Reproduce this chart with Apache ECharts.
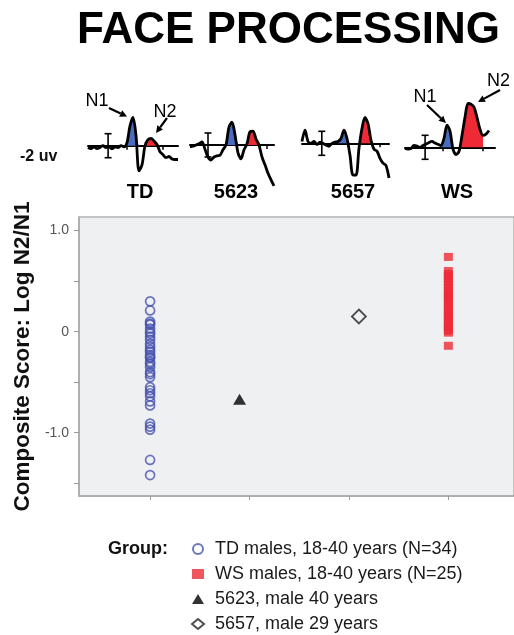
<!DOCTYPE html>
<html>
<head>
<meta charset="utf-8">
<script src="https://cdn.jsdelivr.net/npm/echarts@6/dist/echarts.min.js"></script>
<style>
html, body { margin: 0; padding: 0; background: #fff; }
#main { width: 514px; height: 635px; }
</style>
</head>
<body>
<div id="main"></div>
<script>
var FONT = '"Liberation Sans", Arial, sans-serif';

// composite scores (log N2/N1)
var tdScores = [0.30, 0.21, 0.10, 0.08, 0.07, 0.03, 0.00, -0.02, -0.05, -0.08, -0.12, -0.15, -0.18, -0.20,
    -0.23, -0.25, -0.26, -0.30, -0.32, -0.35, -0.40, -0.42, -0.45, -0.55, -0.58, -0.61, -0.64, -0.69,
    -0.73, -0.91, -0.94, -0.97, -1.27, -1.42];
var wsScores = [0.74, 0.60, 0.57, 0.55, 0.52, 0.49, 0.46, 0.43, 0.40, 0.37, 0.35, 0.32, 0.29, 0.26,
    0.23, 0.20, 0.17, 0.15, 0.12, 0.09, 0.06, 0.04, 0.01, -0.01, -0.14];
var case5623 = [[1.9, -0.67]];
var case5657 = [[3.1, 0.15]];
var groupNames = ['TD males, 18-40 years (N=34)', 'WS males, 18-40 years (N=25)', '5623, male 40 years', '5657, male 29 years'];
var yTicks = [-1.5, -1, -0.5, 0, 0.5, 1];
var yLabels = [-1, 0, 1];
var xTicks = [1, 2, 3, 4];

// ERP waveforms in uV (negative plotted up), one sample every few ms
var waveTD = [0.3, 0.5, 0.2, 0.5, 0.3, 0, 0.3, 0.2, 0.5, 0.2, 0.3, 0, 0.2, -0.5, -3.3, -4.7, -1.7, 4.2, 3.2, 0,
    -1, -1.2, -0.8, -0.2, 1, 1.5, 2, 1.8, 2.2, 2.3, 2.3];
var wave5623 = [0.3, 0.2, 0, -0.2, -0.5, 0.7, 2, 2.5, 2, 1.8, 1.7, 0.8, 0, -3, -3.8, -1.7, 1.3, 2.3, 0.8, -0.2,
    -2.2, -2.3, -1, 0, 2, 3.3, 4.7, 5.8, 6.8];
var wave5657 = [-0.3, -2.2, -0.3, 0, -0.3, 0.2, -0.2, 0, 0.3, 0.5, 0, -0.2, -0.3, -0.8, -2.2, -0.8, 2, 5.3, 5.3, 0.8,
    -2.5, -4.3, -3.3, -0.5, 1, 1.3, 2.5, 3.3, 3.7, 5.8];
var waveWS = [0.2, 0.3, 0.2, -0.3, -0.2, 0, -0.3, -0.5, -0.8, -1, -0.7, -0.5, -0.3, -1.5, -3.7, -2.7, 0.3, 1.2, 0.7,
    -2, -5, -7.3, -7.2, -6.7, -5, -3, -2, -2.2, -2.8];
var waves = [waveTD, wave5623, wave5657, waveWS];
var waveNames = ['TD', '5623', '5657', 'WS'];
var n1Win = [[12, 17], [12, 16], [12, 16], [12, 16]];
var n2Win = [[19, 24], [18, 23], [19, 24], [18, 26]];
var baseTicks = [[13, 25], [25.5], [26], [12.7, 26]];
var scaleBarAt = [6.7, 6, 6.6, 6.7];
var scaleBarUv = [-2, 2];

// placement of the little waveform panels
var waveBox = [
    { left: 88, top: 85.7, width: 90, max: 30, label: 140 },
    { left: 190, top: 85, width: 84, max: 28, label: 236 },
    { left: 302, top: 83.3, width: 87, max: 29, label: 353 },
    { left: 405, top: 87.3, width: 90, max: 30, label: 457 }
];

var grids = [], xAxes = [], yAxes = [], series = [], graphics = [];

waves.forEach(function (w, i) {
    var b = waveBox[i];
    grids.push({ left: b.left, top: b.top, width: b.width, height: 120 });
    xAxes.push({
        gridIndex: i, type: 'value', min: 0, max: b.max,
        axisLine: { show: true, onZero: true, lineStyle: { color: '#000', width: 2 } },
        axisTick: { show: true, customValues: baseTicks[i], length: 4, lineStyle: { color: '#000', width: 1.5 } },
        axisLabel: { show: false }, splitLine: { show: false }
    });
    yAxes.push({ gridIndex: i, type: 'value', min: -10, max: 10, inverse: true, show: false });

    var pts = w.map(function (v, k) { return [k, v]; });
    series.push({
        type: 'line', xAxisIndex: i, yAxisIndex: i, data: pts, showSymbol: false, smooth: 0.3,
        lineStyle: { color: '#000', width: 2.8 }, z: 4, silent: true
    });
    [[n1Win[i], '#4a6cc0'], [n2Win[i], '#ee2a36']].forEach(function (p) {
        var seg = pts.slice(p[0][0], p[0][1] + 1).map(function (d) { return [d[0], Math.min(d[1], 0)]; });
        series.push({
            type: 'line', xAxisIndex: i, yAxisIndex: i, data: seg, showSymbol: false, smooth: 0.3,
            lineStyle: { width: 0 }, areaStyle: { color: p[1], opacity: 1 }, z: 2, silent: true
        });
    });
    series.push({
        type: 'custom', xAxisIndex: i, yAxisIndex: i, silent: true, z: 3,
        data: [[scaleBarAt[i], scaleBarUv[0], scaleBarUv[1]]],
        renderItem: function (params, api) {
            var a = api.coord([api.value(0), api.value(1)]);
            var c = api.coord([api.value(0), api.value(2)]);
            var st = { stroke: '#000', lineWidth: 1.6 };
            return {
                type: 'group', children: [
                    { type: 'line', shape: { x1: a[0], y1: a[1], x2: c[0], y2: c[1] }, style: st },
                    { type: 'line', shape: { x1: a[0] - 3.5, y1: a[1], x2: a[0] + 3.5, y2: a[1] }, style: st },
                    { type: 'line', shape: { x1: c[0] - 3.5, y1: c[1], x2: c[0] + 3.5, y2: c[1] }, style: st }
                ]
            };
        }
    });
    graphics.push({
        type: 'text', x: b.label, y: 192.5,
        style: { text: waveNames[i], font: 'bold 20px ' + FONT, fill: '#000', textAlign: 'center', textVerticalAlign: 'middle' }
    });
});

// main scatter panel
grids.push({ left: 79, top: 217, right: 0, bottom: 139, show: true, backgroundColor: '#eff0f1', borderColor: '#b4b4b4', borderWidth: 1.5 });
xAxes.push({
    gridIndex: 4, type: 'value', min: 0.285, max: 4.66,
    axisLine: { show: true, onZero: false, lineStyle: { color: '#a8a8a8', width: 1.5 } },
    axisTick: { show: true, customValues: xTicks, length: 4, lineStyle: { color: '#999' } },
    axisLabel: { show: false }, splitLine: { show: false }
});
yAxes.push({
    gridIndex: 4, type: 'value', min: -1.627, max: 1.135,
    name: 'Composite Score: Log N2/N1', nameLocation: 'middle', nameGap: 44,
    nameTextStyle: { fontFamily: FONT, fontWeight: 'bold', fontSize: 22.5, color: '#111' },
    axisLine: { show: true, lineStyle: { color: '#a8a8a8', width: 1.5 } },
    axisTick: { show: true, customValues: yTicks, length: 5, lineStyle: { color: '#999' } },
    axisLabel: {
        customValues: yLabels, margin: 10, fontFamily: FONT, fontSize: 14, color: '#555',
        formatter: function (v) { return v === 0 ? '0' : v.toFixed(1); }
    },
    splitLine: { show: false }
});

series.push({
    name: groupNames[0], type: 'scatter', xAxisIndex: 4, yAxisIndex: 4,
    data: tdScores.map(function (v) { return [1, v]; }),
    symbol: 'circle', symbolSize: 9,
    itemStyle: { color: 'rgba(0,0,0,0)', borderColor: '#4652b0', borderWidth: 1.7 }
});
series.push({
    name: groupNames[1], type: 'scatter', xAxisIndex: 4, yAxisIndex: 4,
    data: wsScores.map(function (v) { return [4, v]; }),
    symbol: 'rect', symbolSize: [9, 8], itemStyle: { color: '#ee2a36' }
});
series.push({
    name: groupNames[2], type: 'scatter', xAxisIndex: 4, yAxisIndex: 4, data: case5623,
    symbol: 'triangle', symbolSize: [13, 11], itemStyle: { color: '#000' }
});
series.push({
    name: groupNames[3], type: 'scatter', xAxisIndex: 4, yAxisIndex: 4, data: case5657,
    symbol: 'diamond', symbolSize: [14, 14],
    itemStyle: { color: 'rgba(0,0,0,0)', borderColor: '#222', borderWidth: 1.8 }
});

// N1 / N2 annotations
function arrow(x1, y1, x2, y2) {
    var a = Math.atan2(y2 - y1, x2 - x1), L = 7, W = 3.5;
    var bx = x2 - L * Math.cos(a), by = y2 - L * Math.sin(a);
    return [
        { type: 'line', shape: { x1: x1, y1: y1, x2: bx, y2: by }, style: { stroke: '#000', lineWidth: 2.2 } },
        { type: 'polygon', shape: { points: [[x2, y2], [bx + W * Math.sin(a), by - W * Math.cos(a)], [bx - W * Math.sin(a), by + W * Math.cos(a)]] }, style: { fill: '#000' } }
    ];
}
var peakNotes = [
    { t: 'N1', x: 97, y: 101.5, a: [109, 108, 127, 116.5] },
    { t: 'N2', x: 165, y: 112.5, a: [167, 118, 156, 133] },
    { t: 'N1', x: 425, y: 97.5, a: [427, 105, 446, 123] },
    { t: 'N2', x: 498.5, y: 81.5, a: [500, 90, 478, 102] }
];
peakNotes.forEach(function (n) {
    graphics.push({ type: 'text', x: n.x, y: n.y, style: { text: n.t, font: '18px ' + FONT, fill: '#000', textAlign: 'center', textVerticalAlign: 'middle' } });
    graphics = graphics.concat(arrow(n.a[0], n.a[1], n.a[2], n.a[3]));
});
graphics.push({ type: 'text', x: 20, y: 157, style: { text: '-2 uv', font: 'bold 16px ' + FONT, fill: '#111', textVerticalAlign: 'middle' } });
graphics.push({ type: 'text', x: 108, y: 549, style: { text: 'Group:', font: 'bold 18px ' + FONT, fill: '#111', textVerticalAlign: 'middle' } });

var option = {
    animation: false,
    title: {
        text: 'FACE PROCESSING', left: 77, top: 9, padding: 0,
        textStyle: { fontFamily: FONT, fontWeight: 'bold', fontSize: 44, color: '#000' }
    },
    legend: {
        orient: 'vertical', left: 191, top: 540, padding: 0, itemWidth: 12, itemHeight: 10, itemGap: 7,
        selectedMode: false,
        textStyle: { fontFamily: FONT, fontSize: 18, lineHeight: 18, color: '#1a1a1a', padding: [0, 0, 0, 6] },
        data: [
            { name: groupNames[0], icon: 'circle' },
            { name: groupNames[1], icon: 'rect' },
            { name: groupNames[2], icon: 'triangle' },
            { name: groupNames[3], icon: 'diamond' }
        ]
    },
    grid: grids,
    xAxis: xAxes,
    yAxis: yAxes,
    series: series,
    graphic: graphics
};

var chart = echarts.init(document.getElementById('main'));
chart.setOption(option);
</script>
</body>
</html>
